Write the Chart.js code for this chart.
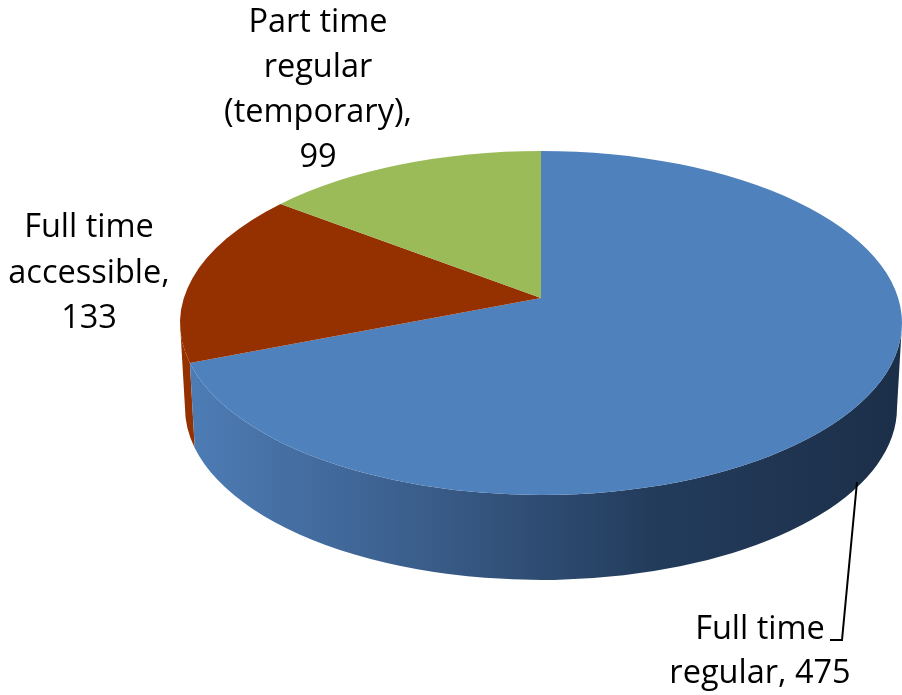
<!DOCTYPE html>
<html>
<head>
<meta charset="utf-8">
<title>Positions</title>
<script src="https://cdn.jsdelivr.net/npm/chart.js@4"></script>
<style>
  html, body { margin: 0; padding: 0; background: #fff; }
  canvas { display: block; }
</style>
</head>
<body>
<canvas id="chart_positions" width="902" height="695"></canvas>
<script>
var categories = ['Full time regular', 'Full time accessible', 'Part time regular (temporary)'];
var positions = [475, 133, 99];
var sliceColors = ['#4f81bd', '#953000', '#9bbb59'];
var labelLines = [
  ['Full time', 'regular, 475'],
  ['Full time', 'accessible,', '133'],
  ['Part time', 'regular', '(temporary),', '99']
];

// where the label lines go: x center, baseline of first line, line step
var labelPlaces = [
  { x: 760, y: 639, step: 44 },
  { x: 89, y: 237, step: 45.5 },
  { x: 318, y: 32, step: 45 }
];

// Chart.js only knows flat pies, so the slices are redrawn tilted here
var apex = { x: 541, y: 298 };
var topFace = { x: 541, y: 323, rx: 361, ry: 172 };
var bottomFace = { x: 541, y: 408, rx: 356, ry: 172 };

// perspective moves the slice edges along the rim a bit
function rimAngle(a) {
  var t = a + Math.PI / 2;
  t = t - 0.208 * Math.sin(t) + 0.088 * Math.sin(2 * t);
  return t - Math.PI / 2;
}

function drawWall(ctx, from, to, fill) {
  ctx.beginPath();
  ctx.ellipse(topFace.x, topFace.y, topFace.rx, topFace.ry, 0, from, to);
  ctx.ellipse(bottomFace.x, bottomFace.y, bottomFace.rx, bottomFace.ry, 0, to, from, true);
  ctx.closePath();
  ctx.fillStyle = fill;
  ctx.fill();
}

function drawLabels(chart) {
  var ctx = chart.ctx;
  ctx.save();

  // leader line of the big slice
  ctx.beginPath();
  ctx.moveTo(857, 482);
  ctx.lineTo(842, 640);
  ctx.lineTo(830, 640);
  ctx.strokeStyle = '#000';
  ctx.lineWidth = 2;
  ctx.stroke();

  ctx.font = '32.5px "Open Sans"';
  ctx.fillStyle = '#000';
  ctx.textAlign = 'center';
  ctx.textBaseline = 'alphabetic';
  for (var i = 0; i < labelLines.length; i++) {
    for (var j = 0; j < labelLines[i].length; j++) {
      ctx.fillText(labelLines[i][j], labelPlaces[i].x, labelPlaces[i].y + j * labelPlaces[i].step);
    }
  }
  ctx.restore();
}

var tiltedPie = {
  id: 'tiltedPie',
  beforeDatasetsDraw: function(chart) {
    var ctx = chart.ctx;
    var arcs = chart.getDatasetMeta(0).data;
    var blueEnd = rimAngle(arcs[0].endAngle);

    var wallFill = ctx.createLinearGradient(190, 0, 900, 0);
    wallFill.addColorStop(0, '#4d7cb5');
    wallFill.addColorStop(0.3, '#3c608e');
    wallFill.addColorStop(0.65, '#233c5c');
    wallFill.addColorStop(1, '#1c2f49');

    ctx.save();
    // only the front of the wall shows
    drawWall(ctx, blueEnd, Math.PI, arcs[1].options.backgroundColor);
    drawWall(ctx, 0, blueEnd, wallFill);

    for (var i = 0; i < arcs.length; i++) {
      ctx.beginPath();
      ctx.moveTo(apex.x, apex.y);
      ctx.ellipse(topFace.x, topFace.y, topFace.rx, topFace.ry, 0, rimAngle(arcs[i].startAngle), rimAngle(arcs[i].endAngle));
      ctx.closePath();
      ctx.fillStyle = arcs[i].options.backgroundColor;
      ctx.fill();
    }
    ctx.restore();
    drawLabels(chart);
    return false;
  }
};

new Chart(document.getElementById('chart_positions'), {
  type: 'pie',
  data: {
    labels: categories,
    datasets: [{
      label: 'Positions',
      data: positions,
      backgroundColor: sliceColors,
      borderWidth: 0
    }]
  },
  options: {
    responsive: false,
    animation: false,
    plugins: {
      legend: { display: false },
      tooltip: { enabled: false }
    }
  },
  plugins: [tiltedPie]
});
</script>
</body>
</html>
